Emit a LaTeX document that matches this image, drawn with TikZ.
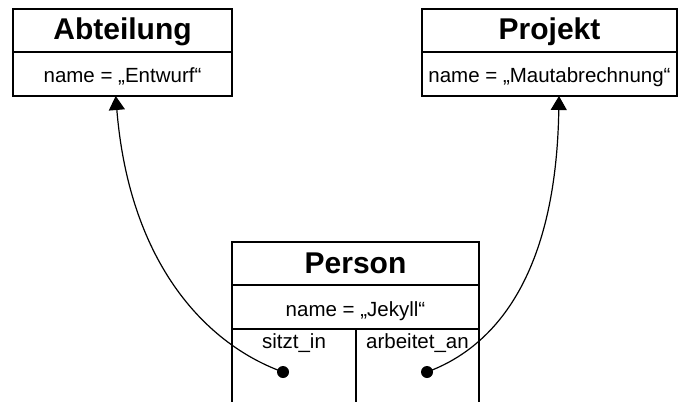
\documentclass[tikz,border=0pt]{standalone}
\usepackage{fontspec}
\setmainfont{Liberation Sans}
\usetikzlibrary{arrows.meta}
\begin{document}
\begin{tikzpicture}[x=1pt,y=-1pt,
  cell/.style={draw, line width=1.4pt, inner sep=0pt, outer sep=0pt, anchor=north west},
  titlecell/.style={cell, font=\fontsize{30}{30}\selectfont\bfseries, text height=22pt, text depth=3pt},
  namecell/.style={cell, font=\fontsize{20.5}{20.5}\selectfont, text height=20pt, text depth=2pt},
  attr/.style={font=\fontsize{20.5}{20.5}\selectfont, inner sep=0pt, anchor=base},
  dot/.style={circle, fill=black, inner sep=0pt, minimum size=12pt},
  link/.style={line width=1.2pt, -{Triangle[width=16pt,length=14pt]}}]
\useasboundingbox (0,0) rectangle (679,401);

% Abteilung
\node[titlecell, minimum width=219pt, minimum height=43pt] (abtT) at (13,9) {Abteilung};
\node[namecell, minimum width=219pt, minimum height=44pt] (abtN) at (abtT.south west) {name = „Entwurf“};

% Projekt
\node[titlecell, minimum width=255pt, minimum height=43pt] (prjT) at (422,9) {Projekt};
\node[namecell, minimum width=255pt, minimum height=44pt] (prjN) at (prjT.south west) {name = „Mautabrechnung“};

% Person
\node[titlecell, minimum width=247pt, minimum height=43pt] (perT) at (232,242) {Person};
\node[namecell, minimum width=247pt, minimum height=44pt] (perN) at (perT.south west) {name = „Jekyll“};
\coordinate (perMid) at (356,329);
\draw[line width=1.4pt] (perN.south west) -- ++(0,80);
\draw[line width=1.4pt] (perN.south east) -- ++(0,80);
\draw[line width=1.4pt] (perMid) -- ++(0,80);
\node[attr] (sitzt) at (294,348) {sitzt\_in};
\node[attr] (arbeitet) at (417.5,348) {arbeitet\_an};

% references
\node[dot] (dotL) at (283,372) {};
\node[dot] (dotR) at (427,372) {};
\draw[link] (dotL.center) .. controls +(-75,-27) and +(14,170) .. ([xshift=-6.8pt]abtN.south);
\draw[link] (dotR.center) .. controls +(60,-22) and +(-3,190) .. ([xshift=9.5pt]prjN.south);
\end{tikzpicture}
\end{document}
